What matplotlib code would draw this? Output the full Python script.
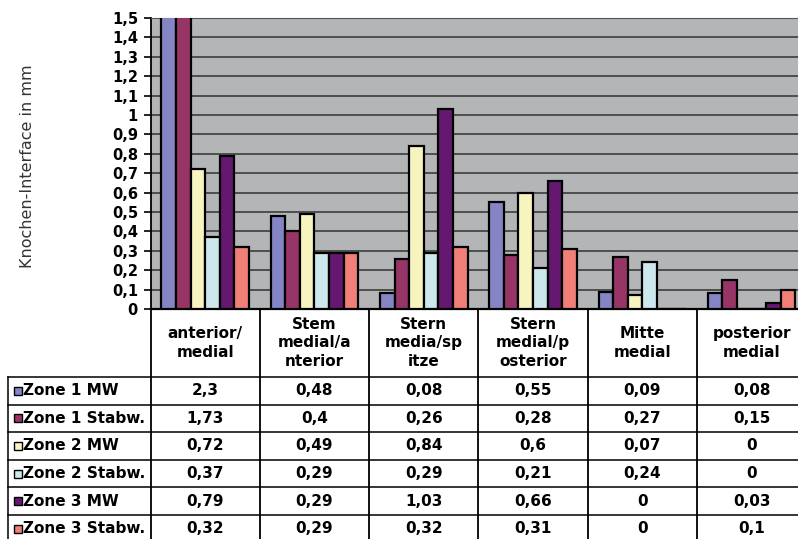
import numpy as np
import matplotlib
matplotlib.use("Agg")
import matplotlib.pyplot as plt

# Kategorien (Messregionen) und Messreihen
categories = ["anterior/\nmedial", "Stem\nmedial/a\nnterior", "Stern\nmedia/sp\nitze",
              "Stern\nmedial/p\nosterior", "Mitte\nmedial", "posterior\nmedial"]
series_names = ["Zone 1 MW", "Zone 1 Stabw.", "Zone 2 MW", "Zone 2 Stabw.",
                "Zone 3 MW", "Zone 3 Stabw."]

zone1_mw = [2.3, 0.48, 0.08, 0.55, 0.09, 0.08]
zone1_sd = [1.73, 0.4, 0.26, 0.28, 0.27, 0.15]
zone2_mw = [0.72, 0.49, 0.84, 0.6, 0.07, 0]
zone2_sd = [0.37, 0.29, 0.29, 0.21, 0.24, 0]
zone3_mw = [0.79, 0.29, 1.03, 0.66, 0, 0.03]
zone3_sd = [0.32, 0.29, 0.32, 0.31, 0, 0.1]

series = [zone1_mw, zone1_sd, zone2_mw, zone2_sd, zone3_mw, zone3_sd]
colors = ["#8585c6", "#963566", "#f8f4c0", "#cde8ec", "#65186f", "#f07f78"]

y_ticks = [i / 10 for i in range(16)]


def de(v):
    # deutsche Zahlendarstellung mit Komma
    return f"{v:g}".replace(".", ",")


W, H = 798, 539
fig = plt.figure(figsize=(W / 100, H / 100), dpi=100)
fig.patch.set_facecolor("white")

# Diagrammbereich (rechts etwas abgeschnitten wie im Export)
x0, x1 = 150.5, 806.3
y_top, y_zero = 18, 309
ax = fig.add_axes([x0 / W, (H - y_zero) / H, (x1 - x0) / W, (y_zero - y_top) / H])
ax.set_facecolor("#b3b5b7")

n = len(series)
bw = 0.1336
x = np.arange(len(categories))
for j, (vals, col) in enumerate(zip(series, colors)):
    ax.bar(x + (j - (n - 1) / 2) * bw, vals, width=bw, color=col,
           edgecolor="black", linewidth=1.6, zorder=3)

ax.set_xlim(-0.5, len(categories) - 0.5)
ax.set_ylim(0, 1.5)
ax.set_yticks(y_ticks)
ax.set_yticklabels([de(t) for t in y_ticks], fontsize=10.5, fontweight="bold")
ax.tick_params(axis="y", direction="out", length=5, width=1.2, pad=4)
ax.set_xticks([])
ax.yaxis.grid(True, color="#3c3c3c", linewidth=1.2)
ax.set_axisbelow(True)
ax.spines["right"].set_visible(False)
ax.spines["top"].set_color("#555555")
ax.spines["left"].set_linewidth(1.3)
ax.spines["bottom"].set_linewidth(1.6)

fig.text(28 / W, 1 - 166 / H, "Knochen-Interface in mm", rotation=90,
         ha="center", va="center", fontsize=11.5, color="#333333")

# Datentabelle unter dem Diagramm
cw = x1 - x0
row_h = 27.6
lx = 8.0
tab = fig.add_axes([lx / W, 0, (x1 - lx) / W, (H - y_zero) / H])
px = cw / len(categories)
left = -0.5 - (x0 - lx) / px
bottom = (H - y_zero) / row_h
tab.set_xlim(left, len(categories) - 0.5)
tab.set_ylim(bottom, 0)
tab.axis("off")

head = 68 / row_h
lw = 1.1
for b in np.arange(len(categories) + 1) - 0.5:
    tab.plot([b, b], [0, bottom], color="black", lw=1.3, clip_on=False)
tab.plot([left, left], [head, bottom], color="black", lw=lw, clip_on=False)
for k in range(n):
    tab.plot([left, len(categories) - 0.5], [head + k, head + k], color="black",
             lw=lw, clip_on=False)

for i, cat in enumerate(categories):
    tab.text(i, head / 2, cat, ha="center", va="center", fontsize=11,
             fontweight="bold", linespacing=1.3)

key_x = left + (17.5 - lx) / px
txt_x = left + (22.5 - lx) / px
for k, (name, vals, col) in enumerate(zip(series_names, series, colors)):
    yc = head + k + 0.5
    tab.plot([key_x], [yc], marker="s", markersize=6, color=col,
             markeredgecolor="black", markeredgewidth=1.0, clip_on=False)
    tab.text(txt_x, yc, name, ha="left", va="center", fontsize=11,
             fontweight="bold")
    for i, v in enumerate(vals):
        tab.text(i, yc, de(v), ha="center", va="center", fontsize=11,
                 fontweight="bold")

fig.savefig("out.png", dpi=100)
